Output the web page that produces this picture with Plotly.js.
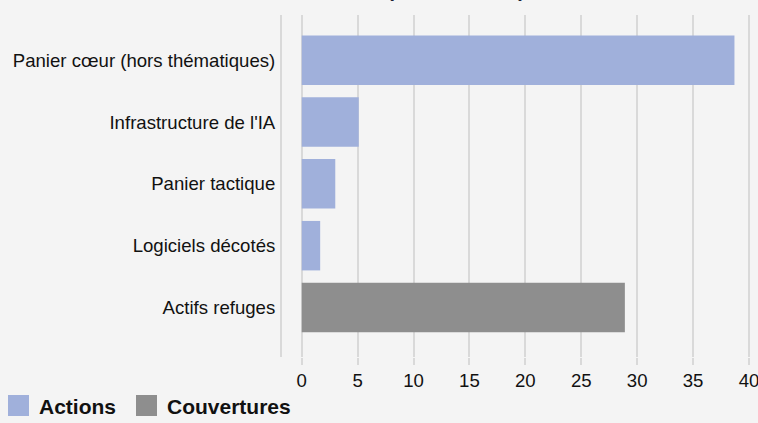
<!DOCTYPE html>
<html>
<head>
<meta charset="utf-8">
<script src="https://cdn.plot.ly/plotly-3.0.1.min.js"></script>
<style>html,body{margin:0;padding:0;background:#f4f4f4;}#chart{width:758px;height:423px;}</style>
</head>
<body>
<div id="chart"></div>
<script>
var categories = ["Panier cœur (hors thématiques)", "Infrastructure de l'IA", "Panier tactique", "Logiciels décotés", "Actifs refuges"];
var actionsValues = [38.7, 5.1, 3.0, 1.65, null];
var couverturesValues = [null, null, null, null, 28.9];
var xTickValues = [0, 5, 10, 15, 20, 25, 30, 35, 40];
var seriesNames = ["Actions", "Couvertures"];
var titleText = "Allocation (en % du total)";

var blue = "#a0b0db", grey = "#8e8e8e", grid = "#d9d9d9";
var font = "Liberation Sans, Arial, sans-serif";

var traces = [
  {type: "bar", orientation: "h", y: categories, x: actionsValues, name: seriesNames[0],
   marker: {color: blue}, showlegend: false, hoverinfo: "x+y"},
  {type: "bar", orientation: "h", y: categories, x: couverturesValues, name: seriesNames[1],
   marker: {color: grey}, showlegend: false, hoverinfo: "x+y"}
];

var L = 282, R = 6, T = 15, B = 66, W = 758, H = 423;
var pw = W - L - R, ph = H - T - B;
function px2x(p) { return (p - L) / pw; }
function py2y(p) { return 1 - (p - T) / ph; }

var layout = {
  width: W, height: H,
  paper_bgcolor: "#f4f4f4", plot_bgcolor: "#f4f4f4",
  margin: {l: L, r: R, t: T, b: B, pad: 0},
  barmode: "overlay",
  bargap: 0.2,
  font: {family: font, size: 18.6, color: "#111"},
  xaxis: {
    range: [-1.765, 40.27], tickvals: xTickValues, ticktext: xTickValues.map(String),
    showgrid: true, gridcolor: grid, gridwidth: 2, zeroline: false,
    ticks: "outside", ticklen: 7, tickwidth: 2, tickcolor: grid,
    ticklabeloverflow: "allow",
    tickfont: {family: font, size: 18.6, color: "#111"}, fixedrange: true
  },
  yaxis: {
    type: "category", categoryorder: "array", categoryarray: categories,
    range: [4.8, -0.73], showgrid: false, zeroline: false,
    showline: true, linecolor: grid, linewidth: 2,
    ticks: "", ticklabelstandoff: 1,
    tickfont: {family: font, size: 18.6, color: "#111"}, fixedrange: true
  },
  shapes: [
    {type: "rect", xref: "paper", yref: "paper", x0: px2x(8), x1: px2x(29), y0: py2y(416), y1: py2y(395), fillcolor: blue, line: {width: 0}},
    {type: "rect", xref: "paper", yref: "paper", x0: px2x(136), x1: px2x(157), y0: py2y(416), y1: py2y(395), fillcolor: grey, line: {width: 0}}
  ],
  annotations: [
    {xref: "paper", yref: "paper", x: px2x(37), y: py2y(406), xanchor: "left", yanchor: "middle", showarrow: false,
     text: "<b>" + seriesNames[0] + "</b>", font: {family: font, size: 21, color: "#111"}},
    {xref: "paper", yref: "paper", x: px2x(165), y: py2y(406), xanchor: "left", yanchor: "middle", showarrow: false,
     text: "<b>" + seriesNames[1] + "</b>", font: {family: font, size: 21, color: "#111"}},
    {xref: "paper", yref: "paper", x: px2x(527), y: py2y(3.5), xanchor: "right", yanchor: "bottom", showarrow: false,
     text: "<b>" + titleText + "</b>", font: {family: font, size: 20, color: "#1a2233"}}
  ]
};

Plotly.newPlot("chart", traces, layout, {displayModeBar: false, staticPlot: true});
</script>
</body>
</html>
